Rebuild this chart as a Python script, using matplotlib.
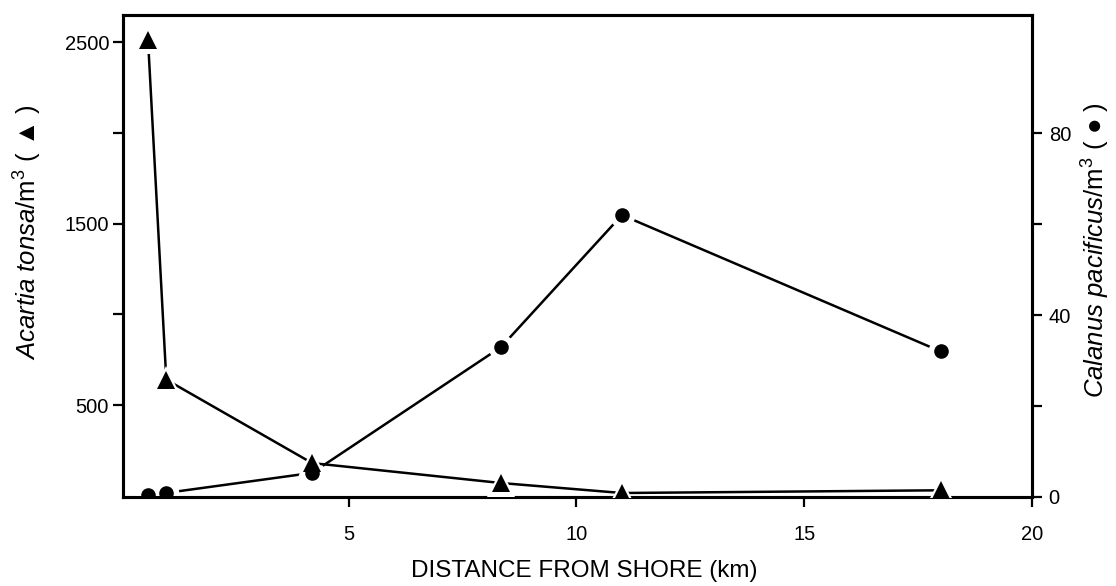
import matplotlib
matplotlib.use("Agg")
import matplotlib.pyplot as plt
from matplotlib.ticker import FixedLocator

plt.rcParams['font.family'] = ['Liberation Sans', 'DejaVu Sans']
plt.rcParams['mathtext.fontset'] = 'custom'
plt.rcParams['mathtext.rm'] = 'Liberation Sans'
plt.rcParams['mathtext.it'] = 'Liberation Sans:italic'

# Data
distance_km = [0.6, 1.0, 4.2, 8.35, 11.0, 18.0]
acartia_per_m3 = [2510, 640, 180, 70, 15, 30]
calanus_x = [0.6, 1.0, 4.2, 8.35, 11.0, 18.0]
calanus_per_m3 = [0.4, 0.9, 5.3, 33, 62, 32]

x_ticks = [5, 10, 15, 20]
left_major = [500, 1500, 2500]
left_minor = [1000, 2000]
right_major = [0, 40, 80]
right_minor = [20, 60]

fig = plt.figure(figsize=(11.16, 5.86), dpi=100)
ax = fig.add_axes([123/1116, 1-497/586, (1032-123)/1116, (497-15)/586])
ax2 = ax.twinx()

ax.set_xlim(0.05, 20)
ax.set_ylim(-7, 2650)
ax2.set_ylim(0, 106)

tri_ms, circ_ms = 12.5, 10.5

# Calanus line with white gaps around its markers (right axis)
ax2.plot(calanus_x, calanus_per_m3, color='black', lw=1.8, zorder=2)
ax2.plot(calanus_x, calanus_per_m3, linestyle='none', marker='o',
         ms=circ_ms + 8, color='white', markeredgewidth=0, zorder=3)

# Acartia line with white gaps (left axis, drawn above)
ax.plot(distance_km, acartia_per_m3, color='black', lw=1.8, zorder=2)
ax.plot(distance_km, acartia_per_m3, linestyle='none', marker='^',
        ms=tri_ms + 8, color='white', markeredgewidth=0, zorder=3)
# Calanus markers above the halos, placed with the right-axis scale
ax.plot(calanus_x, calanus_per_m3, linestyle='none', marker='o', ms=circ_ms,
        color='black', markeredgewidth=0, zorder=4, transform=ax2.transData)
ax.plot(distance_km, acartia_per_m3, linestyle='none', marker='^', ms=tri_ms,
        color='black', markeredgewidth=0, zorder=5)

ax.set_zorder(ax2.get_zorder() + 1)
ax.patch.set_visible(False)

for a in (ax, ax2):
    for s in a.spines.values():
        s.set_linewidth(2.2)

ax.xaxis.set_major_locator(FixedLocator(x_ticks))
ax.set_xticklabels([str(v) for v in x_ticks])
ax.yaxis.set_major_locator(FixedLocator(left_major))
ax.yaxis.set_minor_locator(FixedLocator(left_minor))
ax.set_yticklabels([str(v) for v in left_major])
ax2.yaxis.set_major_locator(FixedLocator(right_major))
ax2.yaxis.set_minor_locator(FixedLocator(right_minor))
ax2.set_yticklabels([str(v) for v in right_major])

ax.tick_params(axis='x', which='major', direction='out', length=7, width=1.6,
               labelsize=14.5, pad=13, top=False)
ax.tick_params(axis='y', which='both', direction='out', length=7, width=1.6,
               labelsize=14.5, pad=3, right=False)
ax2.tick_params(axis='y', which='both', direction='out', length=7, width=1.6,
                labelsize=14.5, pad=5)

fig.text(0.5 * (123 + 1032) / 1116 + 0.006, 0.006, 'DISTANCE FROM SHORE (km)',
         ha='center', va='bottom', fontsize=17.5)
fig.text(28 / 1116, 1 - 232 / 586, r'$\it{Acartia\ tonsa}$/m$^3$ ( ▲ )',
         rotation=90, ha='center', va='center', fontsize=18.5)
fig.text(1096 / 1116, 1 - 250 / 586, r'$\it{Calanus\ pacificus}$/m$^3$ ( ● )',
         rotation=90, ha='center', va='center', fontsize=18.5)

fig.savefig('out.png', dpi=100)
